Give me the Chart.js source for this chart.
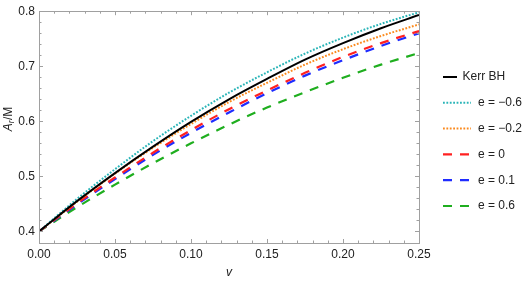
<!DOCTYPE html>
<html>
<head>
<meta charset="utf-8">
<script src="https://cdn.jsdelivr.net/npm/chart.js@4.4.0/dist/chart.umd.min.js"></script>
<style>
  html, body { margin: 0; padding: 0; background: #fff; }
  #wrap { width: 529px; height: 283px; }
</style>
</head>
<body>
<div id="wrap"><canvas id="myChart"></canvas></div>
<script>
// values
var vValues = [0, 0.025, 0.05, 0.075, 0.1, 0.125, 0.15, 0.175, 0.2, 0.225, 0.25];
var kerrBH  = [0.400, 0.455, 0.506, 0.554, 0.599, 0.640, 0.677, 0.712, 0.742, 0.769, 0.793];
var eMinus06 = [0.400, 0.459, 0.513, 0.564, 0.610, 0.652, 0.689, 0.723, 0.752, 0.777, 0.798];
var eMinus02 = [0.400, 0.454, 0.505, 0.552, 0.595, 0.635, 0.670, 0.703, 0.731, 0.755, 0.776];
var eZero   = [0.400, 0.451, 0.498, 0.543, 0.584, 0.622, 0.656, 0.688, 0.717, 0.742, 0.764];
var ePlus01 = [0.400, 0.449, 0.495, 0.539, 0.579, 0.616, 0.651, 0.683, 0.711, 0.737, 0.760];
var ePlus06 = [0.400, 0.444, 0.485, 0.524, 0.560, 0.594, 0.625, 0.653, 0.679, 0.703, 0.724];

var seriesLabels = ["Kerr BH", "e = \u22120.6", "e = \u22120.2", "e = 0", "e = 0.1", "e = 0.6"];
var xTickValues = [0, 0.05, 0.10, 0.15, 0.20, 0.25];
var yTickValues = [0.4, 0.5, 0.6, 0.7, 0.8];

var FONT = "'Liberation Sans', Arial, sans-serif";
var frameColor = "#a0a0a0";
var textColor = "#222";

function pts(arr) {
  var out = [];
  for (var i = 0; i < vValues.length; i++) out.push({x: vValues[i], y: arr[i]});
  return out;
}

function ds(label, arr, color, dash, width) {
  return {
    label: label, data: pts(arr), borderColor: color, backgroundColor: color,
    borderDash: dash, borderWidth: width, pointRadius: 0, fill: false,
    cubicInterpolationMode: 'monotone'
  };
}

var datasets = [
  ds(seriesLabels[0], kerrBH, '#000000', [], 2),
  ds(seriesLabels[1], eMinus06, '#2ab5b8', [1.8, 1.6], 2),
  ds(seriesLabels[2], eMinus02, '#fb8a1e', [1.8, 1.6], 2),
  ds(seriesLabels[3], eZero, '#ff2121', [9, 8], 2.2),
  ds(seriesLabels[4], ePlus01, '#1f2cff', [9, 8], 2.2),
  ds(seriesLabels[5], ePlus06, '#1fae1f', [9, 8], 2.2)
];

// frame, inside ticks, axis titles and legend
var framePlugin = {
  id: 'frame',
  afterDraw: function(chart) {
    var ctx = chart.ctx, a = chart.chartArea;
    var sx = chart.scales.x, sy = chart.scales.y;
    ctx.save();
    ctx.strokeStyle = frameColor;
    ctx.lineWidth = 1;
    ctx.setLineDash([]);
    ctx.strokeRect(Math.round(a.left) + 0.5, Math.round(a.top) + 0.5,
                   Math.round(a.right - a.left), Math.round(a.bottom - a.top));
    ctx.beginPath();
    var i, p, len;
    for (i = 0; i <= 25; i++) {
      p = Math.round(sx.getPixelForValue(i * 0.01)) + 0.5;
      len = (i % 5 === 0) ? 4 : 2.5;
      ctx.moveTo(p, a.bottom); ctx.lineTo(p, a.bottom - len);
      ctx.moveTo(p, a.top); ctx.lineTo(p, a.top + len);
    }
    for (i = 0; i <= 20; i++) {
      var val = 0.4 + i * 0.02;
      p = Math.round(sy.getPixelForValue(val)) + 0.5;
      len = (i % 5 === 0) ? 4 : 2.5;
      ctx.moveTo(a.left, p); ctx.lineTo(a.left + len, p);
      ctx.moveTo(a.right, p); ctx.lineTo(a.right - len, p);
    }
    ctx.stroke();

    // x title
    ctx.fillStyle = textColor;
    ctx.font = "italic 12px " + FONT;
    ctx.textAlign = 'center';
    ctx.textBaseline = 'middle';
    ctx.fillText('v', (a.left + a.right) / 2, 273);

    // y title  A_r/M
    ctx.save();
    ctx.translate(9, 119);
    ctx.rotate(-Math.PI / 2);
    ctx.textAlign = 'left';
    ctx.textBaseline = 'middle';
    ctx.font = "italic 12px " + FONT;
    var wA = ctx.measureText('A').width;
    ctx.font = "italic 8.5px " + FONT;
    var wr = ctx.measureText('r').width;
    ctx.font = "12px " + FONT;
    var wM = ctx.measureText('/M').width;
    var x0 = -(wA + wr + 0.5 + wM) / 2;
    ctx.font = "italic 12px " + FONT;
    ctx.fillText('A', x0, 0);
    ctx.font = "italic 8.5px " + FONT;
    ctx.fillText('r', x0 + wA, 3);
    ctx.font = "12px " + FONT;
    ctx.fillText('/M', x0 + wA + wr + 0.5, 0);
    ctx.restore();

    // legend
    ctx.textAlign = 'left';
    ctx.textBaseline = 'middle';
    ctx.font = "12px " + FONT;
    for (i = 0; i < chart.data.datasets.length; i++) {
      var d = chart.data.datasets[i];
      var y = 77 + i * 25.8;
      var x1 = 443, x2 = (i === 0) ? 457 : 471;
      ctx.strokeStyle = d.borderColor;
      ctx.lineWidth = d.borderWidth;
      ctx.setLineDash(d.borderDash);
      ctx.beginPath();
      ctx.moveTo(x1, y); ctx.lineTo(x2, y);
      ctx.stroke();
      ctx.fillStyle = textColor;
      ctx.fillText(d.label, (i === 0) ? 462.5 : 478, y);
    }
    ctx.restore();
  }
};

var ctx = document.getElementById('myChart').getContext('2d');
var chart = new Chart(ctx, {
  type: 'line',
  data: { datasets: datasets },
  options: {
    responsive: true,
    maintainAspectRatio: false,
    animation: false,
    devicePixelRatio: 1,
    layout: { padding: { left: 0, right: 110, top: 8, bottom: 0 } },
    plugins: { legend: { display: false }, tooltip: { enabled: false } },
    scales: {
      x: {
        type: 'linear', min: 0, max: 0.25,
        grid: { display: false, drawTicks: false },
        border: { display: false },
        afterBuildTicks: function(s) { s.ticks = xTickValues.map(function(v) { return {value: v}; }); },
        afterFit: function(s) { s.height = 40; },
        ticks: {
          padding: 4, color: textColor, font: { family: FONT, size: 12 },
          maxRotation: 0,
          callback: function(v) { return Number(v).toFixed(2); }
        }
      },
      y: {
        type: 'linear', min: 0.379, max: 0.8,
        grid: { display: false, drawTicks: false },
        border: { display: false },
        afterBuildTicks: function(s) { s.ticks = yTickValues.map(function(v) { return {value: v}; }); },
        afterFit: function(s) { s.width = 39; },
        ticks: {
          padding: 4, color: textColor, font: { family: FONT, size: 12 },
          callback: function(v) { return Number(v).toFixed(1); }
        }
      }
    }
  },
  plugins: [framePlugin]
});
</script>
</body>
</html>
